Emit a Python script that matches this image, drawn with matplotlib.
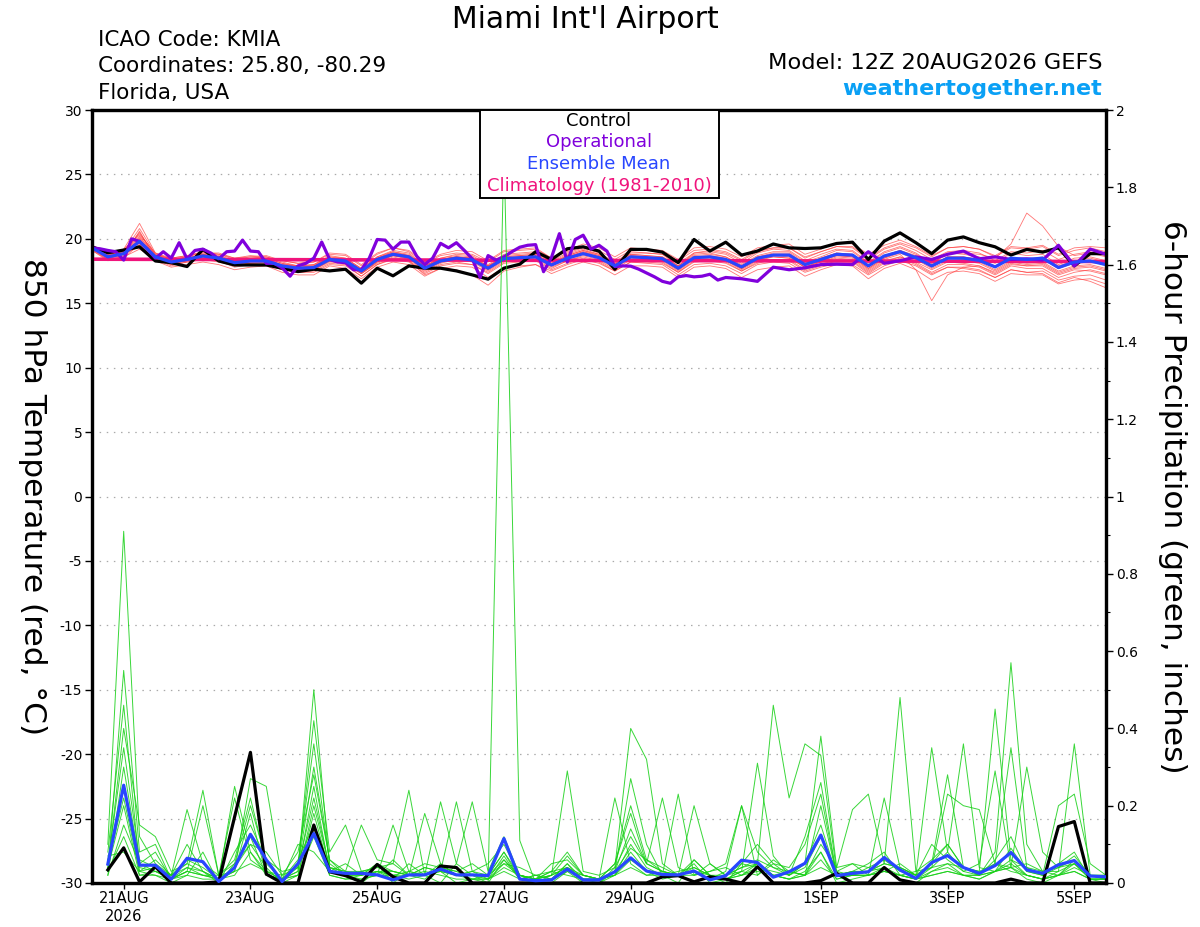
import numpy as np
import matplotlib
matplotlib.use("Agg")
import matplotlib.pyplot as plt
from matplotlib.patches import Rectangle
from matplotlib.ticker import MultipleLocator

plt.rcParams['font.family'] = ['DejaVu Sans']
plt.rcParams['axes.unicode_minus'] = False

# ---------------- data ----------------
title = "Miami Int'l Airport"
info_left = ["ICAO Code: KMIA", "Coordinates: 25.80, -80.29", "Florida, USA"]
model_text = "Model: 12Z 20AUG2026 GEFS"
site_text = "weathertogether.net"
legend_labels = ["Control", "Operational", "Ensemble Mean", "Climatology (1981-2010)"]

# forecast hours from 12Z 20AUG2026
tick_hours = [12, 60, 108, 156, 204, 276, 324, 372]
tick_labels = ["21AUG\n2026", "23AUG", "25AUG", "27AUG", "29AUG", "1SEP", "3SEP", "5SEP"]

temp_hours = list(range(0, 385, 6))          # 65 steps
precip_hours = list(range(6, 385, 6))        # 64 steps
opr_hours = list(range(0, 241, 3)) + list(range(246, 385, 6))

control_temp = [
    19.38, 18.92, 19.13, 19.38, 18.28, 18.15, 17.85, 19.18, 18.28, 17.97, 17.97, 17.97, 17.72,
    17.46, 17.64, 17.51, 17.64, 16.56, 17.72, 17.13, 17.90, 17.72, 17.72, 17.51, 17.20, 16.87,
    17.72, 18.03, 19.00, 18.40, 19.23, 19.38, 19.05, 17.64, 19.18, 19.18, 18.97, 18.15, 19.95,
    19.05, 19.74, 18.74, 19.05, 19.60, 19.30, 19.25, 19.30, 19.64, 19.74, 18.40, 19.82, 20.46,
    19.70, 18.85, 19.90, 20.15, 19.70, 19.38, 18.74, 19.18, 18.97, 19.30, 17.90, 18.85, 18.85]

mean_temp = [
    19.30, 18.60, 18.85, 19.80, 18.60, 18.20, 18.40, 18.67, 18.50, 18.15, 18.28, 18.28, 17.90,
    17.72, 17.77, 18.40, 18.28, 17.50, 18.40, 18.80, 18.60, 17.72, 18.28, 18.50, 18.36, 17.72,
    18.46, 18.54, 18.60, 17.97, 18.50, 18.85, 18.54, 17.90, 18.60, 18.54, 18.46, 17.72, 18.54,
    18.60, 18.40, 17.82, 18.50, 18.74, 18.74, 18.00, 18.40, 18.80, 18.74, 17.90, 18.67, 19.00,
    18.54, 17.90, 18.50, 18.50, 18.33, 17.82, 18.50, 18.40, 18.50, 17.77, 18.20, 18.28, 18.00]

opr_temp = [
    19.30, 19.23, 19.10, 19.00, 18.35, 20.00, 19.80, 19.20, 18.50, 19.00, 18.50, 19.70, 18.45,
    19.10, 19.20, 18.90, 18.45, 19.00, 19.05, 19.90, 19.05, 19.00, 18.10, 18.10, 17.75, 17.10,
    17.90, 18.10, 18.50, 19.75, 18.40, 18.20, 18.15, 17.60, 17.60, 18.50, 19.95, 19.90, 19.20,
    19.75, 19.75, 18.65, 18.00, 18.50, 19.65, 19.30, 19.70, 19.10, 18.45, 17.00, 18.70, 18.35,
    18.60, 19.00, 19.35, 19.50, 19.55, 17.45, 18.55, 20.40, 18.20, 19.95, 20.28, 19.20, 19.50,
    19.05, 17.85, 17.90, 17.88, 17.65, 17.35, 17.05, 16.70, 16.55, 17.05, 17.15, 17.05, 17.10,
    17.25, 16.80, 17.00,
    16.90, 16.70, 17.80, 17.60, 17.75, 18.00, 18.03, 18.00, 19.00, 18.10, 18.30, 18.60,
    18.40, 18.80, 19.05, 18.45, 18.60, 18.40, 18.45, 18.35, 19.50, 17.90, 19.20, 18.80]

clim_hours = [0, 96, 192, 288, 384]
clim_temp = [18.42, 18.37, 18.32, 18.28, 18.24]

member_temp = [
    [19.4,18.7,19.2,21.2,18.9,18.4,18.6,19.0,18.7,18.3,18.5,18.6,18.2,
     17.9,18.0,18.7,18.5,17.7,18.6,19.1,18.9,17.9,18.5,18.8,18.7,18.0,
     18.8,18.9,19.0,18.3,18.9,19.3,18.9,18.2,19.0,18.9,18.8,17.9,18.9,
     19.0,18.8,18.1,18.9,19.2,19.1,18.3,18.8,19.2,19.1,18.2,19.0,19.4,
     18.9,18.1,18.9,18.8,18.6,18.1,18.9,18.7,18.8,18.0,18.5,18.6,18.3],
    [19.2,18.4,18.6,20.6,18.4,17.9,18.2,18.4,18.3,17.8,18.0,18.0,17.6,
     17.4,17.5,18.1,18.0,17.1,18.0,18.5,18.3,17.4,18.0,18.2,18.0,17.3,
     18.1,18.2,18.3,17.6,18.1,18.5,18.2,17.5,18.2,18.1,18.0,17.2,18.0,
     18.1,17.9,17.3,18.0,18.2,18.1,17.4,17.8,18.1,18.0,17.2,17.9,18.3,
     17.9,17.2,17.8,17.7,17.5,17.0,17.6,17.4,17.3,16.6,17.0,16.7,16.2],
    [19.5,18.8,19.0,20.2,18.7,18.5,18.7,18.9,18.9,18.5,18.7,18.6,18.3,
     18.1,18.2,18.9,18.8,18.0,18.9,19.3,19.1,18.2,18.8,19.1,19.0,18.3,
     19.1,19.2,19.3,18.5,19.1,19.6,19.3,18.6,19.3,19.2,19.1,18.4,19.3,
     19.4,19.2,18.6,19.3,19.5,19.6,18.8,19.2,19.7,19.6,18.8,19.5,19.9,
     19.4,18.7,19.3,19.4,19.2,18.7,19.4,19.3,19.5,18.8,19.3,19.4,19.3],
    [19.1,18.3,18.5,19.6,18.3,17.8,18.0,18.2,18.0,17.6,17.8,17.9,17.4,
     17.2,17.2,17.9,17.7,16.9,17.8,18.2,18.0,17.1,17.7,17.9,17.8,17.0,
     17.8,17.9,18.0,17.3,17.8,18.2,17.9,17.2,17.9,17.9,17.8,17.0,17.8,
     17.9,17.7,17.0,17.6,17.8,17.9,17.1,17.6,18.0,17.9,16.9,17.7,18.1,
     17.6,16.8,17.4,17.5,17.3,16.7,17.3,17.2,17.2,16.5,16.8,16.9,16.5],
    [19.3,18.9,19.1,20.4,18.8,18.3,18.5,18.8,18.6,18.1,18.4,18.4,18.0,
     17.9,17.9,18.6,18.4,17.6,18.5,19.0,18.7,17.8,18.4,18.6,18.5,17.9,
     18.6,18.7,18.8,18.1,18.7,19.1,18.8,18.1,18.8,18.7,18.6,17.9,18.8,
     18.9,18.6,18.0,18.7,19.0,19.0,18.2,18.6,19.1,19.0,18.1,18.9,19.3,
     18.8,18.1,18.8,18.9,18.8,18.5,19.6,22.0,21.0,19.4,18.7,18.9,18.6],
    [19.2,18.5,18.7,20.0,18.5,18.0,18.3,18.5,18.4,18.0,18.1,18.2,17.8,
     17.6,17.6,18.3,18.1,17.3,18.2,18.7,18.4,17.5,18.1,18.4,18.2,17.5,
     18.3,18.4,18.5,17.8,18.3,18.7,18.4,17.7,18.5,18.4,18.3,17.5,18.4,
     18.5,18.3,17.6,18.3,18.6,18.5,17.8,18.2,18.6,18.5,17.6,18.4,18.8,
     17.6,15.2,17.2,17.8,17.9,17.3,18.0,17.9,17.9,17.2,17.6,17.5,17.2],
    [19.4,18.6,18.9,19.9,18.6,18.1,18.3,18.6,18.4,18.0,18.2,18.2,17.8,
     17.6,17.6,18.2,18.1,17.3,18.1,18.6,18.3,17.2,17.7,17.6,17.2,16.4,
     17.5,17.8,18.0,17.5,18.0,18.4,18.1,17.5,18.2,18.2,18.1,17.4,18.2,
     18.3,18.1,17.5,18.2,18.4,18.4,17.6,18.0,18.4,18.3,17.4,18.2,18.6,
     18.1,17.4,18.0,18.0,17.8,17.2,17.9,17.7,17.7,17.0,17.4,17.6,17.3],
    [19.3,18.7,18.9,20.1,18.7,18.3,18.5,18.8,18.6,18.3,18.4,18.5,18.1,
     17.9,18.0,18.6,18.5,17.7,18.6,19.0,18.8,17.9,18.5,18.7,18.6,17.9,
     18.7,18.8,18.9,18.2,18.8,19.2,18.8,18.1,18.9,18.9,18.8,18.1,18.9,
     19.1,18.9,18.3,19.0,19.3,19.3,18.5,19.0,19.4,19.4,18.5,19.3,19.7,
     19.3,18.6,19.3,19.4,19.2,18.6,19.3,19.2,19.4,18.7,19.1,19.3,19.0],
    [19.2,18.5,18.8,19.5,18.6,18.2,18.5,18.7,18.6,18.2,18.3,18.3,17.9,
     17.7,17.8,18.5,18.3,17.4,18.3,18.8,18.6,17.8,18.4,18.6,18.5,17.9,
     18.5,18.6,18.7,18.0,18.6,19.0,18.7,18.0,18.7,18.6,18.5,17.7,18.6,
     18.7,18.5,17.8,18.6,18.9,18.9,18.1,18.5,18.9,18.8,17.9,18.7,19.1,
     18.6,17.9,18.6,18.6,18.4,17.8,18.5,18.3,18.5,17.7,18.2,18.3,17.9],
    [19.4,18.8,19.0,20.8,18.8,18.4,18.6,18.9,18.8,18.4,18.6,18.5,18.1,
     17.8,17.9,18.5,18.4,17.6,18.5,18.9,18.7,17.9,18.4,18.6,18.4,17.8,
     18.5,18.6,18.7,18.0,18.6,19.0,18.6,18.0,18.7,18.6,18.5,17.8,18.6,
     18.6,18.4,17.7,18.4,18.6,18.5,17.8,18.2,18.5,18.4,17.5,18.3,18.6,
     18.2,17.6,18.2,18.1,17.9,17.4,18.1,17.9,18.0,17.3,17.7,17.8,17.5],
    [19.3,18.6,18.8,19.4,18.5,18.1,18.3,18.5,18.3,17.9,18.1,18.1,17.7,
     17.5,17.6,18.3,18.1,17.3,18.2,18.7,18.5,17.6,18.2,18.4,18.3,17.6,
     18.4,18.5,18.6,17.9,18.5,18.9,18.6,17.9,18.6,18.5,18.4,17.6,18.5,
     18.6,18.3,17.7,18.4,18.7,18.7,17.9,18.3,18.7,18.6,17.7,18.5,19.0,
     18.5,17.8,18.5,18.4,18.2,17.6,18.3,18.1,18.2,17.5,17.9,18.0,17.7],
    [19.5,18.9,19.2,20.3,18.9,18.5,18.7,19.0,18.8,18.5,18.6,18.7,18.3,
     18.1,18.2,18.8,18.7,17.9,18.8,19.3,19.0,18.1,18.7,18.9,18.8,18.2,
     19.0,19.1,19.2,18.5,19.0,19.4,19.1,18.4,19.1,19.1,19.0,18.3,19.1,
     19.2,19.0,18.4,19.1,19.3,19.3,18.6,19.0,19.4,19.3,18.4,19.2,19.6,
     19.1,18.4,19.0,19.1,18.9,18.3,19.0,18.9,19.1,18.4,18.8,19.0,18.7],
    [19.1,18.4,18.6,19.2,18.4,18.0,18.2,18.4,18.2,17.9,18.0,18.0,17.6,
     17.4,17.4,18.0,17.9,17.1,18.0,18.4,18.2,17.3,17.9,18.1,18.0,17.4,
     18.2,18.3,18.4,17.7,18.3,18.6,18.3,17.6,18.4,18.3,18.2,17.4,18.3,
     18.4,18.2,17.5,18.1,18.4,18.3,17.5,17.9,18.3,18.2,17.3,18.1,18.5,
     18.0,17.3,17.8,17.8,17.6,17.0,17.6,17.4,17.5,16.8,17.1,17.2,16.8],
    [19.4,18.7,19.0,20.5,18.7,18.3,18.5,18.8,18.6,18.2,18.4,18.4,18.0,
     17.8,17.9,18.5,18.4,17.6,18.5,18.9,18.7,17.8,18.4,18.6,18.5,17.8,
     18.6,18.7,18.8,18.1,18.7,19.1,18.7,18.0,18.8,18.7,18.6,17.9,18.7,
     18.8,18.6,17.9,18.6,18.8,18.8,18.0,18.5,18.9,18.8,17.9,18.7,19.1,
     18.7,18.0,18.6,18.6,18.4,17.9,18.5,18.4,18.6,17.9,18.3,18.5,18.2],
    [19.2,18.6,18.9,19.7,18.6,18.2,18.4,18.6,18.5,18.1,18.2,18.3,17.9,
     17.7,17.7,18.4,18.2,17.4,18.3,18.8,18.5,17.6,18.2,18.4,18.3,17.6,
     18.4,18.5,18.6,17.9,18.4,18.8,18.5,17.8,18.6,18.5,18.4,17.6,18.5,
     18.6,18.4,17.7,18.4,18.7,18.6,17.8,18.3,18.7,18.6,17.7,18.5,18.9,
     18.4,17.7,18.3,18.3,18.1,17.5,18.2,18.0,18.1,17.4,17.8,17.9,17.6],
    [19.3,18.5,18.8,20.0,18.5,18.1,18.3,18.6,18.4,18.1,18.2,18.2,17.8,
     17.6,17.7,18.3,18.2,17.4,18.3,18.7,18.5,17.6,18.2,18.4,18.3,17.7,
     18.4,18.5,18.6,17.9,18.5,18.9,18.6,17.9,18.6,18.5,18.4,17.7,18.5,
     18.6,18.4,17.8,18.5,18.8,18.8,18.0,18.4,18.8,18.7,17.9,18.6,19.0,
     18.5,17.8,18.5,18.5,18.3,17.8,18.5,18.3,18.4,17.7,18.1,18.2,18.0],
]

control_precip = [
    0.034, 0.091, 0.003, 0.042, 0.000, 0.000, 0.000, 0.003, 0.171, 0.338, 0.023, 0.000, 0.000, 0.150, 0.029, 0.019,
    0.003, 0.048, 0.016, 0.000, 0.000, 0.044, 0.040, 0.000, 0.000, 0.000, 0.000, 0.000, 0.000, 0.000, 0.000, 0.000,
    0.000, 0.000, 0.000, 0.016, 0.019, 0.003, 0.016, 0.010, 0.000, 0.042, 0.000, 0.000, 0.000, 0.006, 0.025, 0.000,
    0.000, 0.040, 0.008, 0.000, 0.000, 0.000, 0.000, 0.000, 0.000, 0.010, 0.000, 0.000, 0.146, 0.159, 0.000, 0.000]

mean_precip = [
    0.049, 0.253, 0.046, 0.046, 0.010, 0.064, 0.055, 0.004, 0.040, 0.126, 0.060, 0.004, 0.050, 0.128, 0.030, 0.025,
    0.025, 0.021, 0.008, 0.021, 0.021, 0.036, 0.021, 0.021, 0.019, 0.115, 0.010, 0.006, 0.008, 0.036, 0.008, 0.008,
    0.029, 0.065, 0.031, 0.022, 0.021, 0.031, 0.008, 0.019, 0.059, 0.053, 0.015, 0.029, 0.051, 0.124, 0.019, 0.025,
    0.029, 0.066, 0.034, 0.012, 0.053, 0.071, 0.040, 0.025, 0.045, 0.079, 0.034, 0.025, 0.047, 0.058, 0.018, 0.016]

member_precip = [
    [0.05,0.22,0.03,0.02,0,0.02,0.08,0,0.05,0.10,0.04,0,0.02,0.12,0.02,0.01,
     0.02,0.05,0,0.03,0.02,0.03,0,0.01,0,1.90,0.11,0,0,0.03,0,0,
     0.02,0.06,0.03,0.01,0.02,0.05,0,0.01,0.03,0.02,0.06,0.03,0.02,0.08,0,0.01,
     0.02,0.04,0.01,0,0.03,0.05,0.02,0.01,0.03,0.04,0.01,0,0.02,0.05,0.01,0],
    [0.10,0.91,0.12,0.05,0.02,0.05,0.03,0,0.08,0.15,0.06,0,0.05,0.36,0.05,0.02,
     0,0.03,0.01,0.05,0.02,0,0.05,0.02,0,0.06,0.02,0,0.01,0.05,0,0,
     0.03,0.27,0.10,0.02,0,0.06,0.02,0,0.05,0.10,0.05,0.02,0.12,0.26,0.02,0.03,
     0.05,0.08,0.02,0.03,0.06,0.10,0.04,0.02,0.06,0.12,0.03,0.02,0.05,0.08,0.01,0.01],
    [0.03,0.55,0.08,0.10,0.01,0.03,0.20,0.02,0.03,0.27,0.25,0.01,0.03,0.50,0.04,0.02,
     0.03,0.02,0.06,0.02,0.01,0.04,0.03,0.01,0.02,0.08,0.01,0,0.02,0.04,0.01,0,
     0.04,0.40,0.32,0.05,0.02,0.03,0.01,0.03,0.20,0.02,0.05,0.04,0.10,0.23,0.02,0.03,
     0.03,0.05,0.04,0.02,0.10,0.06,0.03,0.02,0.08,0.57,0.10,0.03,0.02,0.06,0.02,0.01],
    [0.08,0.46,0.04,0.03,0.02,0.19,0.05,0.02,0.22,0.06,0.03,0.02,0.08,0.28,0.06,0.03,
     0.15,0.06,0.05,0.02,0.18,0.05,0.02,0.03,0.05,0.10,0.02,0.01,0.02,0.29,0.03,0.02,
     0.04,0.12,0.05,0.22,0.04,0.02,0.03,0.05,0.20,0.08,0.04,0.03,0.02,0.10,0.04,0.19,
     0.23,0.05,0.48,0.03,0.04,0.05,0.04,0.03,0.05,0.04,0.30,0.08,0.04,0.05,0.02,0.02],
    [0.04,0.40,0.15,0.12,0.03,0.05,0.24,0.02,0.05,0.20,0.06,0.03,0.04,0.42,0.08,0.15,
     0.03,0.04,0.05,0.24,0.02,0.21,0.05,0.21,0.03,0.12,0.02,0.01,0.05,0.06,0.02,0.01,
     0.03,0.09,0.06,0.04,0.02,0.02,0.05,0.02,0.03,0.31,0.07,0.02,0.05,0.38,0.04,0.05,
     0.02,0.22,0.04,0.02,0.35,0.08,0.03,0.05,0.29,0.04,0.05,0.03,0.03,0.36,0.02,0.01],
    [0.02,0.30,0.05,0.08,0.01,0.04,0.02,0.01,0.25,0.08,0.03,0.01,0.02,0.20,0.04,0.03,
     0.02,0.05,0.03,0.02,0.04,0.03,0.21,0.03,0.01,0.05,0.04,0.02,0.03,0.02,0.01,0.01,
     0.05,0.20,0.06,0.03,0.02,0.20,0.05,0.02,0.04,0.05,0.46,0.22,0.36,0.33,0.03,0.02,
     0.04,0.03,0.05,0.02,0.05,0.28,0.04,0.02,0.05,0.35,0.04,0.02,0.20,0.23,0.05,0.02],
    [0.06,0.25,0.03,0.06,0.02,0.10,0.03,0.01,0.04,0.12,0.02,0.01,0.06,0.15,0.02,0.01,
     0.01,0.02,0.15,0.03,0.02,0.05,0.02,0.02,0.01,0.04,0.02,0.01,0.03,0.08,0.02,0.01,
     0.02,0.10,0.04,0.02,0.03,0.04,0.02,0.01,0.03,0.05,0.02,0.01,0.03,0.08,0.01,0.02,
     0.03,0.04,0.02,0.01,0.04,0.23,0.20,0.19,0.05,0.03,0.02,0.01,0.03,0.05,0.01,0.01],
    [0.03,0.12,0.02,0.02,0.01,0.03,0.02,0.01,0.03,0.18,0.02,0.01,0.03,0.25,0.03,0.02,
     0.02,0.03,0.02,0.01,0.02,0.03,0.02,0.01,0.01,0.07,0.01,0.02,0.01,0.05,0.01,0.01,
     0.02,0.08,0.03,0.02,0.02,0.04,0.02,0.01,0.02,0.04,0.02,0.01,0.02,0.20,0.02,0.02,
     0.02,0.03,0.02,0.01,0.03,0.04,0.02,0.01,0.03,0.05,0.02,0.01,0.02,0.03,0.01,0.01],
    [0.02,0.15,0.05,0.03,0.01,0.02,0.01,0.01,0.02,0.08,0.02,0.01,0.02,0.18,0.03,0.05,
     0.02,0.03,0.02,0.02,0.03,0.02,0.01,0.01,0.01,0.03,0.01,0.01,0.02,0.04,0.01,0.01,
     0.22,0.05,0.02,0.03,0.02,0.03,0.02,0.01,0.02,0.03,0.02,0.01,0.02,0.06,0.01,0.02,
     0.02,0.03,0.02,0.01,0.02,0.03,0.02,0.02,0.03,0.06,0.02,0.01,0.02,0.03,0.01,0.01],
    [0.07,0.08,0.03,0.04,0.02,0.06,0.04,0.01,0.03,0.05,0.03,0.01,0.10,0.08,0.03,0.02,
     0.02,0.03,0.03,0.02,0.02,0.04,0.03,0.05,0.02,0.06,0.01,0.02,0.01,0.03,0.02,0.01,
     0.02,0.04,0.02,0.02,0.23,0.02,0.03,0.04,0.02,0.05,0.02,0.03,0.02,0.04,0.02,0.02,
     0.02,0.03,0.02,0.01,0.02,0.03,0.02,0.02,0.03,0.04,0.02,0.01,0.02,0.04,0.02,0.01],
    [0.04,0.20,0.02,0.03,0.01,0.03,0.02,0.02,0.06,0.22,0.05,0.01,0.04,0.30,0.06,0.02,
     0.01,0.02,0.02,0.03,0.05,0.04,0.02,0.03,0.02,0.05,0.02,0.01,0.03,0.04,0.02,0.01,
     0.03,0.14,0.05,0.03,0.02,0.03,0.01,0.02,0.05,0.04,0.03,0.02,0.05,0.15,0.02,0.03,
     0.03,0.05,0.04,0.02,0.04,0.08,0.36,0.04,0.03,0.09,0.03,0.02,0.04,0.07,0.02,0.01],
    [0.05,0.35,0.06,0.04,0.02,0.04,0.03,0.01,0.04,0.10,0.08,0.02,0.04,0.22,0.04,0.03,
     0.03,0.04,0.03,0.02,0.04,0.03,0.02,0.02,0.02,0.08,0.02,0.01,0.02,0.07,0.02,0.01,
     0.05,0.18,0.05,0.03,0.02,0.06,0.02,0.02,0.04,0.06,0.04,0.02,0.04,0.12,0.03,0.05,
     0.04,0.06,0.03,0.02,0.05,0.10,0.04,0.03,0.45,0.06,0.04,0.03,0.04,0.06,0.02,0.02],
]

# ---------------- styling ----------------
c_control = "black"
c_opr = "#8000DC"
c_mean = "#2846FF"
c_clim = "#F0147C"
c_member_t = "#FF3B3B"
c_member_p = "#16D016"
c_site = "#0AA0F5"

fig = plt.figure(figsize=(12, 9.27), dpi=100)
ax = fig.add_axes([92/1200, 1-883/927, (1106-92)/1200, (883-110)/927])
ax2 = ax.twinx()

# temperature (left axis)
for m in member_temp:
    ax.plot(temp_hours, m, color=c_member_t, lw=0.6, alpha=0.7, zorder=2)
ax.plot(clim_hours, clim_temp, color=c_clim, lw=2.6, zorder=4)
ax.plot(temp_hours, control_temp, color=c_control, lw=2.3, zorder=5)
ax.plot(opr_hours, opr_temp, color=c_opr, lw=2.3, zorder=6)
ax.plot(temp_hours, mean_temp, color=c_mean, lw=2.3, zorder=7)

# precipitation (right axis)
for m in member_precip:
    ax2.plot(precip_hours, m, color=c_member_p, lw=0.7, alpha=0.85, zorder=2)
ax2.plot(precip_hours, control_precip, color=c_control, lw=2.3, zorder=5)
ax2.plot(precip_hours, mean_precip, color=c_mean, lw=2.3, zorder=6)

ax.set_xlim(0, 384)
ax.set_ylim(-30, 30)
ax2.set_ylim(0, 2)
ax.yaxis.set_major_locator(MultipleLocator(5))
ax2.yaxis.set_major_locator(MultipleLocator(0.2))
ax2.yaxis.set_minor_locator(MultipleLocator(0.1))
ax2.set_yticklabels([("%g" % v) for v in ax2.get_yticks()])
ax.set_xticks(tick_hours)
ax.set_xticklabels(tick_labels)

for y in range(-25, 30, 5):
    ax.axhline(y, color="#AAAAAA", lw=0.9, ls=(0, (1.2, 4.5)), zorder=1)

for a in (ax, ax2):
    for s in a.spines.values():
        s.set_linewidth(2.3)
ax.tick_params(axis="y", direction="out", length=5, width=1, labelsize=10, pad=2)
ax.tick_params(axis="x", direction="out", length=4, width=1, labelsize=10.5, pad=2)
ax2.tick_params(axis="y", which="major", direction="out", length=5, width=1, labelsize=10, pad=2)
ax2.tick_params(axis="y", which="minor", direction="out", length=3, width=0.8)

ax.set_ylabel("850 hPa Temperature (red, °C)", fontsize=22.5, rotation=270, va="center")
ax2.set_ylabel("6-hour Precipitation (green, inches)", fontsize=22.5, rotation=270, va="center")
ax.yaxis.set_label_coords((32-92)/1014, 0.5)
ax2.yaxis.set_label_coords((1172-92)/1014, 0.5)

# legend box
box = Rectangle((0.3826, 0.886), 0.2357, 0.114, transform=ax2.transAxes,
                facecolor="white", edgecolor="black", lw=1.4, zorder=20, clip_on=False)
ax2.add_patch(box)
leg_y = [0.9855, 0.958, 0.9305, 0.902]
for lab, col, yy in zip(legend_labels, [c_control, c_opr, c_mean, c_clim], leg_y):
    ax2.text(0.5, yy, lab, color=col, fontsize=13, ha="center", va="center",
             transform=ax2.transAxes, zorder=21)

# header texts
fig.text(585/1200, 1-19/927, title, fontsize=21.5, ha="center", va="center")
for i, t in enumerate(info_left):
    fig.text(98/1200, 1-(40+26.5*i)/927, t, fontsize=15.5, ha="left", va="center")
fig.text(1102/1200, 1-63/927, model_text, fontsize=16.2, ha="right", va="center")
fig.text(1102/1200, 1-89/927, site_text, fontsize=16, ha="right", va="center",
         color=c_site, fontweight="bold")

fig.savefig("out.png", dpi=100)
